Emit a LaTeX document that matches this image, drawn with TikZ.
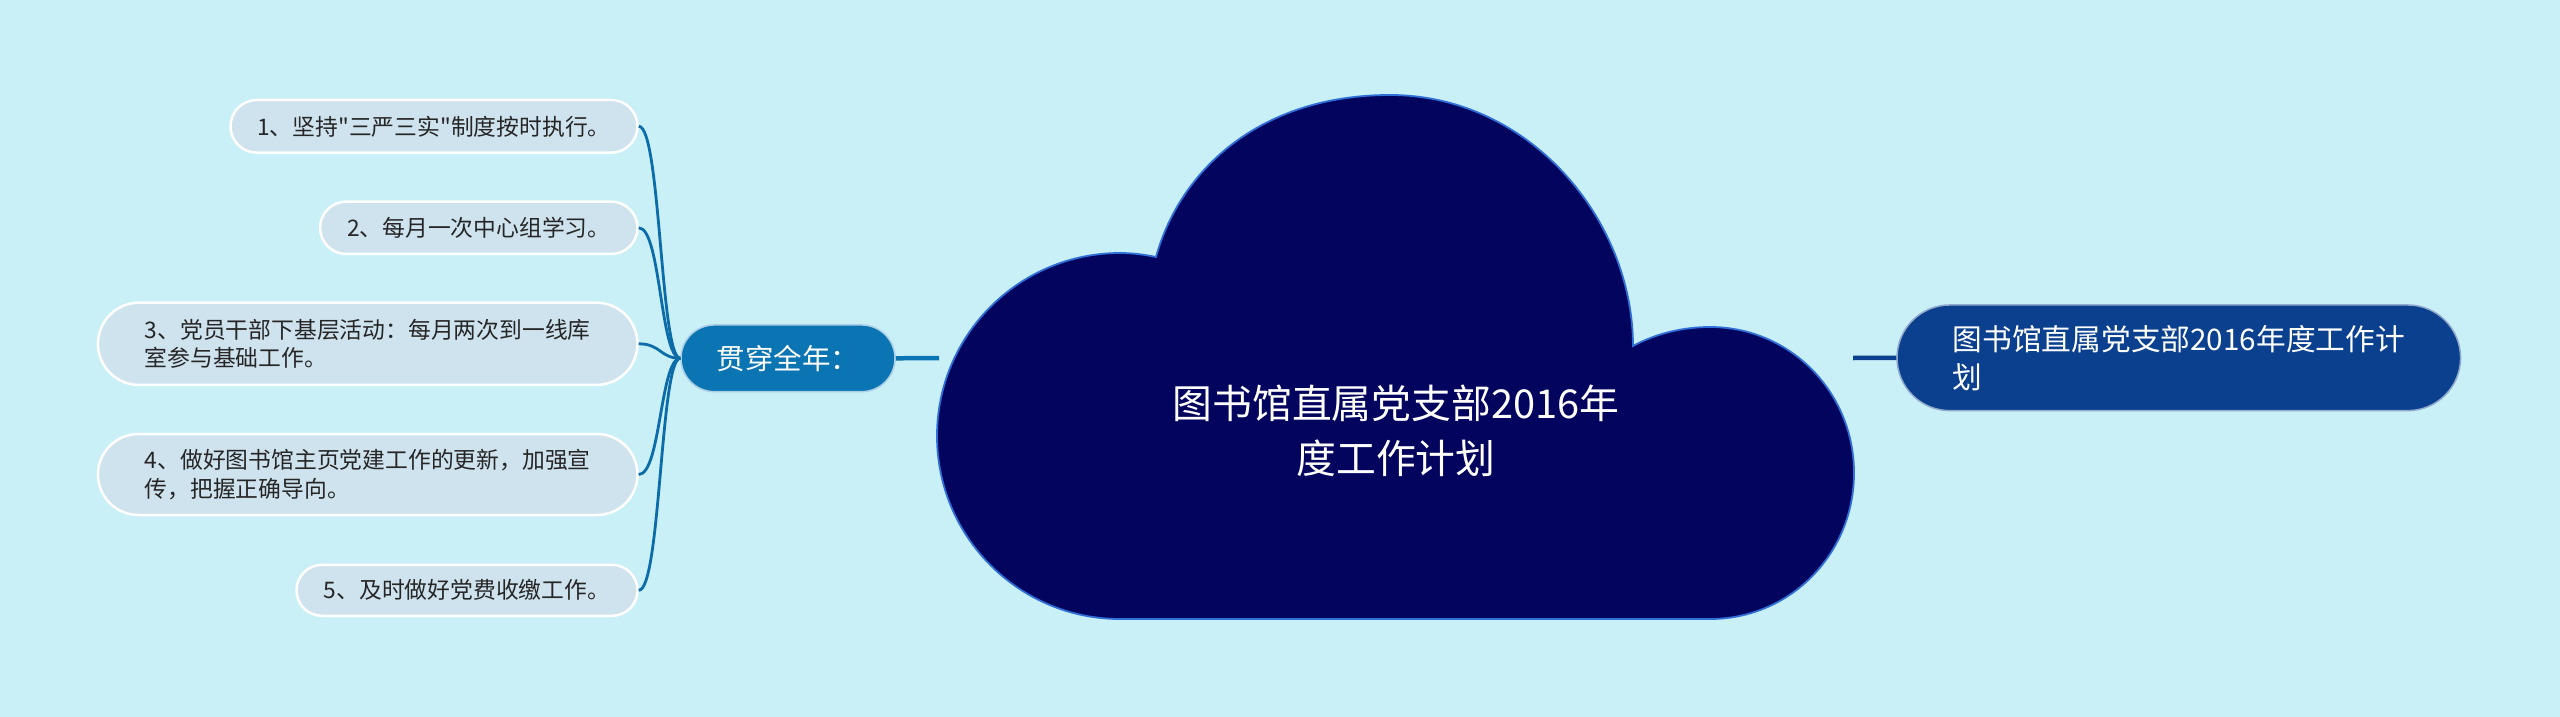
\documentclass[tikz,border=0pt]{standalone}
\usepackage{fontspec}
\usetikzlibrary{shapes.misc}
\newfontfamily\cjk{Noto Sans CJK SC}
\definecolor{bg}{HTML}{C9EFF7}
\definecolor{leaffill}{HTML}{CFE3EE}
\definecolor{midblue}{HTML}{0B75B4}
\definecolor{linkblue}{HTML}{0C6CA8}
\definecolor{navy}{HTML}{03045E}
\definecolor{cloudedge}{HTML}{2F6FD6}
\definecolor{rootblue}{HTML}{0A408E}
\begin{document}
\begin{tikzpicture}[x=1pt,y=-1pt,
  leaf/.style={rounded rectangle, draw=white, line width=2.5pt, fill=leaffill,
    inner sep=0pt, align=left, text=black!85,
    font=\cjk\fontsize{22.8}{28.2}\selectfont},
  midnode/.style={rounded rectangle, draw=white!65!midblue, line width=1.5pt, fill=midblue,
    inner sep=0pt, text=white, font=\cjk\fontsize{28.5}{34}\selectfont},
  rootnode/.style={rounded rectangle, draw=white!55!rootblue, line width=1.5pt, fill=rootblue,
    inner sep=0pt, align=left, text=white, font=\cjk\fontsize{29.7}{38.3}\selectfont},
  cloudtext/.style={align=center, text=white, inner sep=0pt, font=\cjk\fontsize{39.8}{55.5}\selectfont},
  leaflink/.style={draw=linkblue, line width=2.8pt},
  midlink/.style={draw=midblue, line width=4.5pt},
  rootlink/.style={draw=rootblue, line width=4.5pt}
]
\useasboundingbox (0,0) rectangle (2560,717);
\fill[bg] (0,0) rectangle (2560,717);

% cloud
\filldraw[fill=navy, draw=cloudedge, line width=1.8pt]
  (1120,619)
  .. controls (1019,619) and (937,537) .. (937,436)
  .. controls (937,335) and (1019,253) .. (1120,253)
  .. controls (1132,253) and (1144,254.5) .. (1156,257)
  .. controls (1180,170) and (1260,95) .. (1390,95)
  .. controls (1530,95) and (1633,220) .. (1633,346)
  .. controls (1655,334) and (1682,327) .. (1710,327)
  .. controls (1790,327) and (1854,392) .. (1854,473)
  .. controls (1854,554) and (1790,619) .. (1710,619)
  -- cycle;
\node[cloudtext] (ct) at (1396,431) {图书馆直属党支部2016年\\度工作计划};
\coordinate (cloudL) at (939,358);
\coordinate (cloudR) at (1853,358);

% nodes
\node[midnode, minimum width=214pt, minimum height=66.7pt] (mid) at (788,358.3) {贯穿全年：};
\node[rootnode, minimum width=563.6pt, minimum height=105.7pt] (root) at (2178.8,357.8) {图书馆直属党支部2016年度工作计\\划};

\node[leaf, minimum width=407pt, minimum height=52.7pt] (l1) at (434,126.3) {1、坚持"三严三实"制度按时执行。};
\node[leaf, minimum width=317.5pt, minimum height=52.3pt] (l2) at (478.8,227.8) {2、每月一次中心组学习。};
\node[leaf, minimum width=539.5pt, minimum height=82.3pt] (l3) at (367.7,343.8) {3、党员干部下基层活动：每月两次到一线库\\室参与基础工作。};
\node[leaf, minimum width=539.5pt, minimum height=81pt] (l4) at (367.7,474.5) {4、做好图书馆主页党建工作的更新，加强宣\\传，把握正确导向。};
\node[leaf, minimum width=341pt, minimum height=51pt] (l5) at (467,590.3) {5、及时做好党费收缴工作。};

% connectors
\draw[midlink] (mid.east) -- (cloudL);
\draw[rootlink] (cloudR) -- (root.west);
\foreach \n in {l1,l2,l3,l4,l5}{
  \draw[leaflink] (\n.east) .. controls +(22,0) and +(-20,0) .. (mid.west);
}
\end{tikzpicture}
\end{document}
